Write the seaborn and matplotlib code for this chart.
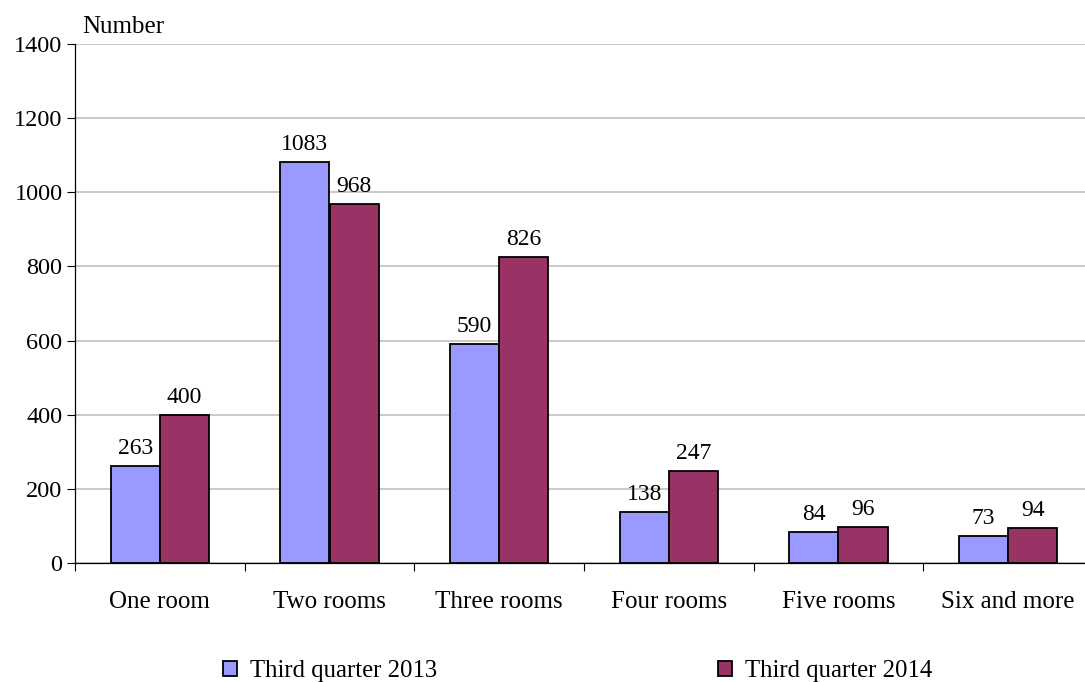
import matplotlib
matplotlib.use("Agg")
import matplotlib.pyplot as plt
import seaborn as sns
import pandas as pd
from matplotlib.patches import Patch

categories = ["One room", "Two rooms", "Three rooms", "Four rooms", "Five rooms", "Six and more"]
series_names = ["Third quarter 2013", "Third quarter 2014"]
values_2013 = [263, 1083, 590, 138, 84, 73]
values_2014 = [400, 968, 826, 247, 96, 94]
y_ticks = [0, 200, 400, 600, 800, 1000, 1200, 1400]
colors = ["#9999FF", "#993366"]

df = pd.DataFrame({
    "category": categories * 2,
    "series": [series_names[0]] * 6 + [series_names[1]] * 6,
    "value": values_2013 + values_2014,
})

sns.set_style("white")
plt.rcParams["font.family"] = ["Liberation Serif", "DejaVu Serif"]
plt.rcParams["text.color"] = "black"
plt.rcParams["xtick.color"] = "black"
plt.rcParams["ytick.color"] = "black"
plt.rcParams["axes.labelcolor"] = "black"

fig = plt.figure(figsize=(10.85, 6.82), dpi=100)
ax = fig.add_axes([75 / 1085, 1 - 563 / 682, (1093 - 75) / 1085, (563 - 44) / 682])

sns.barplot(data=df, x="category", y="value", hue="series", order=categories,
            hue_order=series_names, palette=colors, width=0.58,
            edgecolor="black", linewidth=1.3, ax=ax, legend=False, saturation=1)

for cont in ax.containers:
    ax.bar_label(cont, labels=[f"{int(v.get_height())}" for v in cont], padding=5,
                 fontsize=17, color="black")

ax.set_ylim(0, 1400)
ax.set_yticks(y_ticks)
ax.set_yticklabels([str(t) for t in y_ticks], fontsize=17.5)
ax.set_xlim(-0.5, 5.5)
ax.set_xticks([i - 0.5 for i in range(7)])
ax.set_xticklabels([""] * 7)
ax.set_xticks(range(6), minor=True)
ax.set_xticklabels(categories, minor=True, fontsize=18)
ax.tick_params(axis="x", which="major", length=6, direction="out", color="black", width=0.8, bottom=True)
ax.tick_params(axis="x", which="minor", length=0, pad=20, bottom=True, labelcolor="black")
ax.tick_params(axis="y", length=6, direction="out", color="black", width=0.8, left=True, pad=3,
               labelcolor="black")
ax.set_xlabel("")
ax.set_ylabel("")
ax.yaxis.grid(True, color="#C0C0C0", linewidth=1.2)
ax.set_axisbelow(True)
for s in ["top", "right"]:
    ax.spines[s].set_visible(False)
for s in ["left", "bottom"]:
    ax.spines[s].set_color("black")
    ax.spines[s].set_linewidth(0.9)

fig.text(82 / 1085, 1 - 27 / 682, "Number", fontsize=18, va="center", ha="left", color="black")

for c, name, x0 in zip(colors, series_names, [223, 718]):
    h = Patch(facecolor=c, edgecolor="black", linewidth=1.3)
    fig.legend([h], [name], loc="center left", bbox_to_anchor=(x0 / 1085, 1 - 671 / 682),
               frameon=False, fontsize=17.8, handlelength=0.58, handleheight=0.58,
               handletextpad=0.5, borderaxespad=0, borderpad=0, labelcolor="black")

fig.savefig("out.png", dpi=100)
